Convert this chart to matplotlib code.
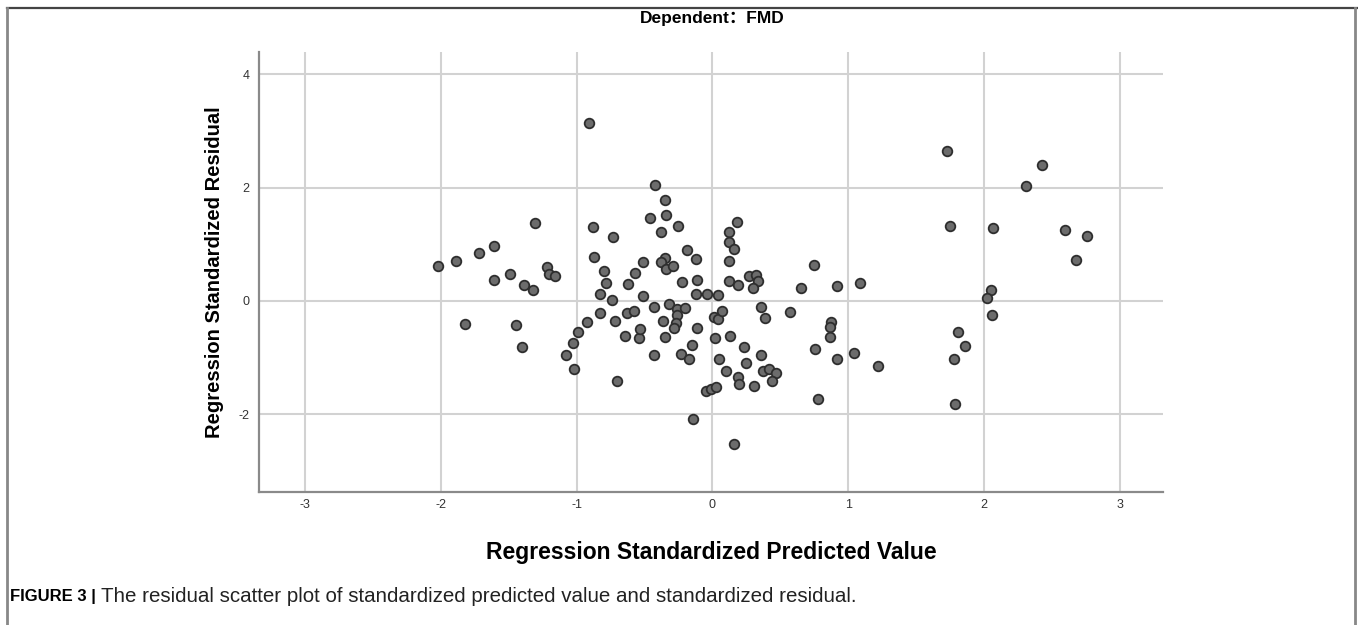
import matplotlib
matplotlib.use('Agg')
import matplotlib.pyplot as plt
from matplotlib.lines import Line2D

# Standardized predicted values (x) and standardized residuals (y)
pred = [
    -2.02, -1.89, -1.82, -1.72, -1.61, -1.61, -1.49, -1.45, -1.40, -1.39,
    -1.31, -1.32, -1.22, -1.20, -1.16, -1.08, -1.03, -1.02, -0.99, -0.92,
    -0.91, -0.88, -0.87, -0.83, -0.83, -0.80, -0.78, -0.74, -0.73, -0.72,
    -0.70, -0.645, -0.63, -0.62, -0.58, -0.57, -0.54, -0.53, -0.51, -0.51,
    -0.46,
    -0.42, -0.35, -0.34, -0.38, -0.255, -0.19, -0.12, -0.35, -0.38, -0.34,
    -0.29, -0.22, -0.11, -0.12, -0.04, 0.04, -0.43, -0.32, -0.26, -0.20,
    -0.26, -0.365, -0.27, -0.28, -0.115, -0.35, -0.15, -0.43, -0.23, -0.17,
    -0.145, 0.02, 0.01, 0.04, 0.07, 0.13, 0.05, 0.10, 0.23, 0.25,
    0.36, 0.19, 0.20, 0.31, 0.37, 0.42, 0.47, 0.44, -0.05, -0.01,
    0.03, 0.16, 0.18, 0.12, 0.12, 0.16, 0.12, 0.12, 0.19, 0.27,
    0.32, 0.34, 0.30, 0.36, 0.39, 0.57, 0.65, 0.75, 0.76, 0.78,
    0.92, 0.875, 0.865, 0.87, 0.92, 1.04, 1.09, 1.22,
    1.73, 1.75, 1.81, 1.86, 1.78, 1.79,
    2.07, 2.43, 2.31, 2.60, 2.76, 2.68, 2.05, 2.02, 2.06,
]
resid = [
    0.61, 0.71, -0.41, 0.85, 0.97, 0.37, 0.48, -0.42, -0.82, 0.28,
    1.38, 0.19, 0.59, 0.48, 0.44, -0.95, -0.75, -1.20, -0.54, -0.37,
    3.14, 1.31, 0.78, -0.22, 0.12, 0.52, 0.32, 0.02, 1.12, -0.36,
    -1.41, -0.62, -0.21, 0.29, -0.18, 0.49, -0.66, -0.50, 0.08, 0.68,
    1.47,
    2.04, 1.78, 1.51, 1.21, 1.32, 0.89, 0.74, 0.76, 0.68, 0.56,
    0.61, 0.34, 0.37, 0.13, 0.12, 0.11, -0.11, -0.06, -0.15, -0.12,
    -0.25, -0.35, -0.39, -0.48, -0.48, -0.63, -0.78, -0.96, -0.94, -1.02,
    -2.08, -0.65, -0.29, -0.32, -0.18, -0.61, -1.02, -1.24, -0.81, -1.09,
    -0.96, -1.35, -1.46, -1.50, -1.24, -1.20, -1.27, -1.41, -1.59, -1.55,
    -1.52, -2.52, 1.40, 1.22, 1.04, 0.91, 0.70, 0.36, 0.28, 0.44,
    0.46, 0.35, 0.23, -0.10, -0.31, -0.19, 0.23, 0.64, -0.84, -1.73,
    0.26, -0.37, -0.46, -0.63, -1.03, -0.91, 0.32, -1.14,
    2.64, 1.32, -0.55, -0.79, -1.03, -1.82,
    1.29, 2.40, 2.02, 1.25, 1.15, 0.72, 0.19, 0.05, -0.25,
]

x_ticks = [-3, -2, -1, 0, 1, 2, 3]
y_ticks = [-2, 0, 2, 4]

plt.rcParams['font.family'] = ['Liberation Sans', 'Noto Sans CJK SC', 'DejaVu Sans']

fig = plt.figure(figsize=(13.58, 6.25), dpi=100)
ax = fig.add_axes([0.1907, 0.2128, 0.6657, 0.704])

ax.scatter(pred, resid, s=48, facecolor='#6c6c6c', edgecolor='#2e2e2e',
           linewidth=1.3, zorder=3)

ax.set_xlim(-3.34, 3.32)
ax.set_ylim(-3.37, 4.39)
ax.set_xticks(x_ticks)
ax.set_yticks(y_ticks)
ax.set_xticklabels([str(t) for t in x_ticks], fontsize=9, color='#333333')
ax.set_yticklabels([str(t) for t in y_ticks], fontsize=9, color='#333333')
ax.tick_params(axis='x', length=0, pad=5)
ax.tick_params(axis='y', length=0, pad=7)
ax.grid(True, color='#d2d2d2', linewidth=1.5)
ax.set_axisbelow(True)

for side in ['top', 'right']:
    ax.spines[side].set_visible(False)
for side in ['left', 'bottom']:
    ax.spines[side].set_color('#8a8a8a')
    ax.spines[side].set_linewidth(1.6)

ax.set_xlabel('Regression Standardized Predicted Value', fontsize=16.5,
              fontweight='bold', labelpad=22)
ax.set_ylabel('Regression Standardized Residual', fontsize=14.5,
              fontweight='bold', labelpad=10)
fig.text(0.5245, 0.971, 'Dependent：FMD', ha='center', va='center',
         fontsize=12.5, fontweight='bold')

# caption
fig.text(0.0075, 0.045, 'FIGURE 3 |', fontsize=12, fontweight='bold',
         va='center', ha='left')
fig.text(0.0745, 0.045,
         'The residual scatter plot of standardized predicted value and standardized residual.',
         fontsize=14.8, va='center', ha='left', color='#222222')

# page frame around the figure
fig.add_artist(Line2D([0.005, 1.0], [0.987, 0.987], color='#444444', linewidth=1.6,
                      transform=fig.transFigure))
fig.add_artist(Line2D([0.0055, 0.0055], [0.0, 0.987], color='#888888', linewidth=2,
                      transform=fig.transFigure))
fig.add_artist(Line2D([0.998, 0.998], [0.0, 0.987], color='#888888', linewidth=2,
                      transform=fig.transFigure))

fig.savefig('out.png', dpi=100)
